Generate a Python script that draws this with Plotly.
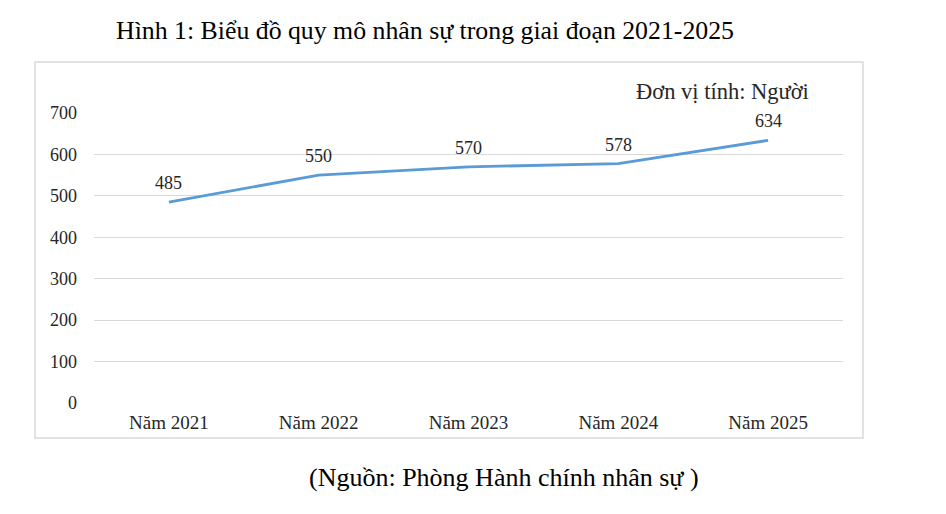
import plotly.graph_objects as go

categories = ["Năm 2021", "Năm 2022", "Năm 2023", "Năm 2024", "Năm 2025"]
values = [485, 550, 570, 578, 634]
y_ticks = [0, 100, 200, 300, 400, 500, 600, 700]

OFF = 8  # page body margin
W, H = 946 - 2 * OFF, 514 - 2 * OFF
L, R, T, B = 94 - OFF, 843 - OFF, 113 - OFF, 403 - OFF

def px(x):
    return (x - OFF - L) / (R - L)

def py(y):
    return (B - (y - OFF)) / (B - T)

FONT = "Liberation Serif"

fig = go.Figure()
fig.add_trace(go.Scatter(
    x=categories, y=values, mode="lines",
    line=dict(color="#5B9BD5", width=2.8),
    hoverinfo="skip",
))
for c, v in zip(categories, values):
    fig.add_annotation(x=c, y=v, text=str(v), showarrow=False,
                       yshift=19, xanchor="center", yanchor="middle",
                       font=dict(family=FONT, size=18, color="#262626"))

fig.update_layout(
    width=W, height=H,
    margin=dict(l=L, r=W - R, t=T, b=H - B),
    paper_bgcolor="white", plot_bgcolor="white",
    showlegend=False,
    xaxis=dict(type="category", range=[-0.5, 4.5], showgrid=False,
               showline=False, zeroline=False, ticks="",
               ticklabelstandoff=6,
               tickfont=dict(family=FONT, size=19, color="#262626")),
    yaxis=dict(range=[0, 700], tickvals=y_ticks, showgrid=True,
               gridcolor="#D9D9D9", gridwidth=1, zeroline=False,
               showline=False, ticks="", ticklabelstandoff=16,
               tickfont=dict(family=FONT, size=18, color="#262626")),
)

fig.add_shape(type="rect", xref="paper", yref="paper",
              x0=px(35), x1=px(863), y0=py(438), y1=py(62),
              line=dict(color="#D9D9D9", width=1.5), layer="below")

fig.add_annotation(xref="paper", yref="paper", x=px(425), y=py(30),
                   text="Hình 1: Biểu đồ quy mô nhân sự trong giai đoạn 2021-2025",
                   showarrow=False, xanchor="center", yanchor="middle",
                   font=dict(family=FONT, size=25.8, color="black"))
fig.add_annotation(xref="paper", yref="paper", x=px(811), y=py(92),
                   text="Đơn vị tính: Người",
                   showarrow=False, xanchor="right", yanchor="middle",
                   font=dict(family=FONT, size=22.5, color="#262626"))
fig.add_annotation(xref="paper", yref="paper", x=px(504), y=py(477),
                   text="(Nguồn: Phòng Hành chính nhân sự )",
                   showarrow=False, xanchor="center", yanchor="middle",
                   font=dict(family=FONT, size=26, color="black"))

fig.write_html("out.html")
